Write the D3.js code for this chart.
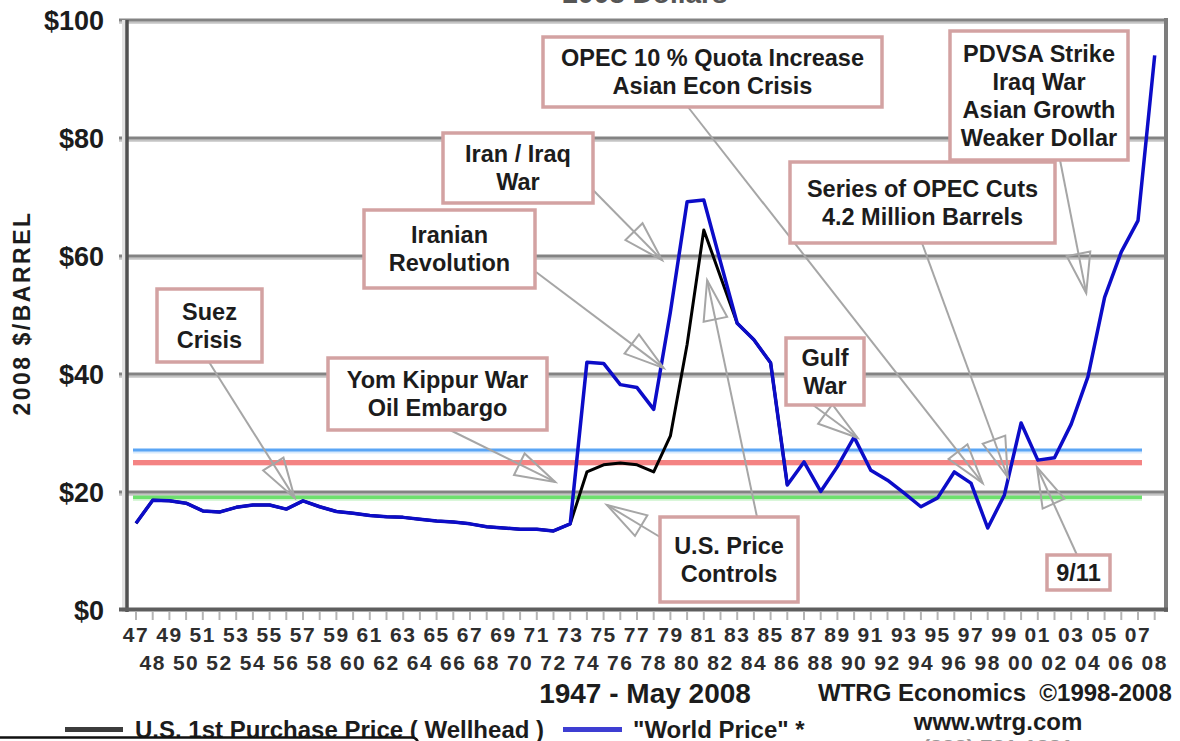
<!DOCTYPE html>
<html><head><meta charset="utf-8">
<script src="https://cdn.jsdelivr.net/npm/d3@7"></script>
<style>html,body{margin:0;padding:0;background:#fff;overflow:hidden}text{font-family:"Liberation Sans",Arial,sans-serif;font-weight:bold}</style>
</head><body><svg id="c" width="1180" height="741"></svg>
<script>
// ---------------- DATA ----------------
const years = [1947,1948,1949,1950,1951,1952,1953,1954,1955,1956,1957,1958,1959,1960,1961,1962,1963,1964,1965,1966,1967,1968,1969,1970,1971,1972,1973,1974,1975,1976,1977,1978,1979,1980,1981,1982,1983,1984,1985,1986,1987,1988,1989,1990,1991,1992,1993,1994,1995,1996,1997,1998,1999,2000,2001,2002,2003,2004,2005,2006,2007,2008];
const worldPrice = [14.7,18.6,18.5,18.1,16.8,16.6,17.4,17.8,17.8,17.1,18.5,17.5,16.7,16.4,16.0,15.8,15.7,15.4,15.1,14.9,14.6,14.1,13.9,13.7,13.7,13.4,14.6,42.0,41.8,38.2,37.7,34.0,50.5,69.2,69.5,59.0,48.6,45.8,41.9,21.2,25.1,20.1,24.3,29.3,23.7,22.0,19.8,17.5,19.0,23.4,21.5,13.9,19.5,31.7,25.4,25.8,31.5,39.5,53.0,60.7,66.0,94.0];
const usYears = [1947,1948,1949,1950,1951,1952,1953,1954,1955,1956,1957,1958,1959,1960,1961,1962,1963,1964,1965,1966,1967,1968,1969,1970,1971,1972,1973,1974,1975,1976,1977,1978,1979,1980,1981,1982,1983,1984,1985,1986];
const usPrice = [14.7,18.6,18.5,18.1,16.8,16.6,17.4,17.8,17.8,17.1,18.5,17.5,16.7,16.4,16.0,15.8,15.7,15.4,15.1,14.9,14.6,14.1,13.9,13.7,13.7,13.4,14.6,23.4,24.6,24.9,24.6,23.4,29.5,45.0,64.4,56.5,48.6,45.8,41.9,21.2];
const refLevels = [27.1, 25.0, 19.1];
const yTicks = [0,20,40,60,80,100];
const yTickLabels = ["$0","$20","$40","$60","$80","$100"];
const xTickLabels = ["47","48","49","50","51","52","53","54","55","56","57","58","59","60","61","62","63","64","65","66","67","68","69","70","71","72","73","74","75","76","77","78","79","80","81","82","83","84","85","86","87","88","89","90","91","92","93","94","95","96","97","98","99","00","01","02","03","04","05","06","07","08"];
const annoLines = [["Suez","Crisis"],["Yom Kippur War","Oil Embargo"],["Iran / Iraq","War"],["Iranian","Revolution"],["OPEC 10 % Quota Increase","Asian Econ Crisis"],["Series of OPEC Cuts","4.2 Million Barrels"],["PDVSA Strike","Iraq War","Asian Growth","Weaker Dollar"],["Gulf","War"],["U.S. Price","Controls"],["9/11"]];
const annoTargets = [[[1956.5,19.0]],[[1972.1,21.7]],[[1978.5,59.3]],[[1978.6,41.0]],[[1997.7,21.5]],[[1999.2,22.5]],[[2003.9,53.7]],[[1990.2,29.2]],[[1975.2,17.8],[1981.2,55.9]],[[2000.95,24.2]]];
const legendLabels = ["U.S. 1st Purchase Price ( Wellhead )", "\"World Price\" *"];

// ---------------- LAYOUT ----------------
const annoBoxes = [[157,289,105,73],[328,358,219,72],[443,133,150,70],[364,210,171,78],[543,37,339,70],[790,162,265,81],[950,31,178,129],[786,338,78,67],[660,517,138,85],[1047,555,63,35]];
const annoStarts = [[[209,362]],[[450,430]],[[593,190]],[[536,272]],[[688,107]],[[922,243]],[[1060,160]],[[813,405]],[[660,537],[757,517]],[[1077,555]]];

const svg = d3.select("#c");
const x = d3.scaleLinear().domain([1947,2008]).range([136,1154.7]);
const y = d3.scaleLinear().domain([0,100]).range([610,20]);
const plotL = 127, plotR = 1166;

// title remnant at top
svg.append("text").attr("x",645).attr("y",3).attr("text-anchor","middle")
  .attr("font-size",28).attr("fill","#555").text("2008 Dollars");

// gridlines
const g = svg.append("g");
yTicks.forEach((t,i)=>{
  if (t===0) return;
  g.append("line").attr("x1",119).attr("x2",plotR).attr("y1",y(t)+2.5).attr("y2",y(t)+2.5)
    .attr("stroke","#c4c4c4").attr("stroke-width",2.5);
  g.append("line").attr("x1",119).attr("x2",plotR).attr("y1",y(t)).attr("y2",y(t))
    .attr("stroke","#838383").attr("stroke-width",3);
});
// y labels
svg.append("g").selectAll("text").data(yTicks).join("text")
  .attr("x",104).attr("y",d=>y(d)+1).attr("text-anchor","end").attr("dominant-baseline","central")
  .attr("font-size",27).attr("fill","#1c1c1c").text((d,i)=>yTickLabels[i]);

// y title
svg.append("text").attr("transform","translate(22,313) rotate(-90)")
  .attr("text-anchor","middle").attr("dominant-baseline","central")
  .attr("font-size",23).attr("letter-spacing",2.5).attr("fill","#1c1c1c").text("2008 $/BARREL");

// reference lines
const refColors = ["#5aa5f5","#f48383","#6ee06e"];
const refWidths = [3,5,3.5];
refLevels.forEach((v,i)=>{
  svg.append("line").attr("x1",x(1947)-3).attr("x2",x(2007)+4).attr("y1",y(v)+2).attr("y2",y(v)+2)
    .attr("stroke", i===2 ? "#cdf3cd" : (i===0 ? "#d8eafc" : "#fcd6d6")).attr("stroke-width",3);
  svg.append("line").attr("x1",x(1947)-3).attr("x2",x(2007)+4).attr("y1",y(v)).attr("y2",y(v))
    .attr("stroke",refColors[i]).attr("stroke-width",refWidths[i]);
});

// axes lines
svg.append("line").attr("x1",plotL-3).attr("x2",plotL-3).attr("y1",20).attr("y2",612).attr("stroke","#e2e2e2").attr("stroke-width",4);
svg.append("line").attr("x1",plotL).attr("x2",plotL).attr("y1",20).attr("y2",612).attr("stroke","#505050").attr("stroke-width",3.5);
svg.append("line").attr("x1",plotR).attr("x2",plotR).attr("y1",18).attr("y2",612).attr("stroke","#7d7d7d").attr("stroke-width",4);
svg.append("line").attr("x1",119).attr("x2",plotR+2).attr("y1",609.5).attr("y2",609.5).attr("stroke","#5e5e5e").attr("stroke-width",4);

// x ticks and labels
svg.append("g").selectAll("line").data(years).join("line")
  .attr("x1",d=>x(d)).attr("x2",d=>x(d)).attr("y1",612).attr("y2",620)
  .attr("stroke","#b4b4b4").attr("stroke-width",2);
svg.append("g").selectAll("text").data(years).join("text")
  .attr("x",d=>x(d)).attr("y",(d,i)=> i%2===0 ? 642 : 670).attr("text-anchor","middle")
  .attr("font-size",21).attr("letter-spacing",1.5).attr("fill","#2e2e2e").text((d,i)=>xTickLabels[i]);

// data lines
const line = d3.line().x(d=>x(d[0])).y(d=>y(d[1]));
svg.append("path").datum(usYears.map((d,i)=>[d,usPrice[i]])).attr("d",line)
  .attr("fill","none").attr("stroke","#000").attr("stroke-width",3).attr("stroke-linejoin","round");
svg.append("path").datum(years.map((d,i)=>[d,worldPrice[i]])).attr("d",line)
  .attr("fill","none").attr("stroke","#0c0cc8").attr("stroke-width",3.5).attr("stroke-linejoin","round");

// annotation arrows
const ag = svg.append("g");
annoTargets.forEach((tgts,i)=>{
  tgts.forEach((t,j)=>{
    const s = annoStarts[i][j];
    const tx = x(t[0]), ty = y(t[1]);
    const dx = tx-s[0], dy = ty-s[1], len = Math.hypot(dx,dy);
    const ux = dx/len, uy = dy/len, nx = -uy, ny = ux;
    const L = 40, W = 12;
    const bx = tx-L*ux, by = ty-L*uy;
    ag.append("line").attr("x1",s[0]).attr("y1",s[1]).attr("x2",tx).attr("y2",ty)
      .attr("stroke","#a6a6a6").attr("stroke-width",2);
    ag.append("path").attr("d",`M${tx},${ty}L${bx+W*nx},${by+W*ny}L${bx-W*nx},${by-W*ny}Z`)
      .attr("fill","none").attr("stroke","#a6a6a6").attr("stroke-width",2).attr("stroke-linejoin","miter");
  });
});

// annotation boxes
annoLines.forEach((lines,i)=>{
  const b = annoBoxes[i];
  svg.append("rect").attr("x",b[0]).attr("y",b[1]).attr("width",b[2]).attr("height",b[3])
    .attr("fill","#fff").attr("stroke","#d3a2a2").attr("stroke-width",3.5);
  const cx = b[0]+b[2]/2, cy = b[1]+b[3]/2, lh = 28;
  lines.forEach((t,k)=>{
    svg.append("text").attr("x",cx).attr("y",cy+(k-(lines.length-1)/2)*lh)
      .attr("text-anchor","middle").attr("dominant-baseline","central")
      .attr("font-size",23.5).attr("fill","#1c1c1c").text(t);
  });
});

// bottom texts
svg.append("text").attr("x",645).attr("y",693).attr("text-anchor","middle").attr("dominant-baseline","central")
  .attr("font-size",28).attr("fill","#1c1c1c").text("1947 - May 2008");
svg.append("text").attr("x",818).attr("y",692).attr("dominant-baseline","central")
  .attr("font-size",24).attr("fill","#1c1c1c").attr("xml:space","preserve").text("WTRG Economics  \u00A91998-2008");
svg.append("text").attr("x",998).attr("y",721).attr("text-anchor","middle").attr("dominant-baseline","central")
  .attr("font-size",24).attr("fill","#1c1c1c").text("www.wtrg.com");
svg.append("text").attr("x",998).attr("y",755).attr("text-anchor","middle")
  .attr("font-size",22).attr("fill","#999").text("(832) 721-1281");

// legend
svg.append("line").attr("x1",65).attr("x2",123).attr("y1",729.5).attr("y2",729.5).attr("stroke","#3c3c3c").attr("stroke-width",5);
svg.append("text").attr("x",135).attr("y",729).attr("dominant-baseline","central").attr("font-size",24)
  .attr("fill","#1c1c1c").text(legendLabels[0]);
svg.append("line").attr("x1",563).attr("x2",622).attr("y1",729.5).attr("y2",729.5).attr("stroke","#3e3ed2").attr("stroke-width",5);
svg.append("text").attr("x",633).attr("y",729).attr("dominant-baseline","central").attr("font-size",24)
  .attr("fill","#1c1c1c").text(legendLabels[1]);

// overlay box at bottom-left
svg.append("rect").attr("x",-10).attr("y",737.5).attr("width",428).attr("height",40).attr("rx",6)
  .attr("fill","#fff").attr("stroke","#111").attr("stroke-width",2.5);
</script></body></html>
